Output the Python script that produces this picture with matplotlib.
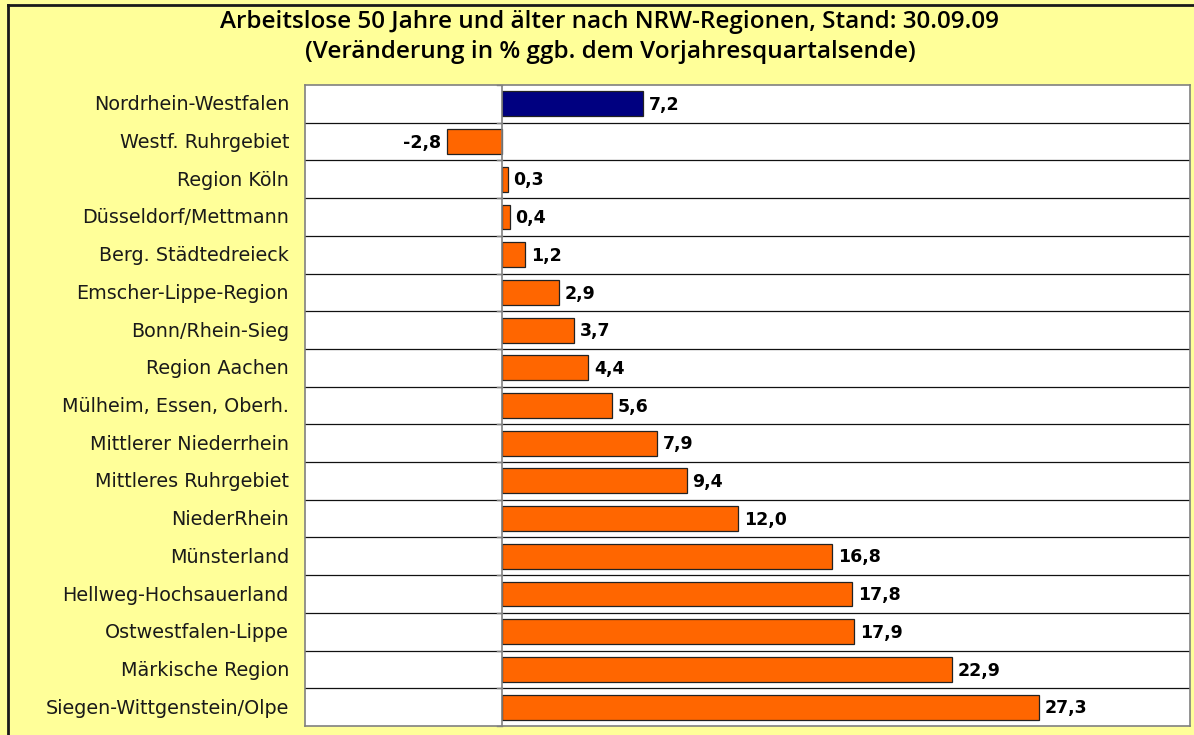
import matplotlib.pyplot as plt
from matplotlib.lines import Line2D

regions = [
    "Nordrhein-Westfalen", "Westf. Ruhrgebiet", "Region Köln", "Düsseldorf/Mettmann",
    "Berg. Städtedreieck", "Emscher-Lippe-Region", "Bonn/Rhein-Sieg", "Region Aachen",
    "Mülheim, Essen, Oberh.", "Mittlerer Niederrhein", "Mittleres Ruhrgebiet",
    "NiederRhein", "Münsterland", "Hellweg-Hochsauerland", "Ostwestfalen-Lippe",
    "Märkische Region", "Siegen-Wittgenstein/Olpe",
]
changes = [7.2, -2.8, 0.3, 0.4, 1.2, 2.9, 3.7, 4.4, 5.6, 7.9, 9.4, 12.0, 16.8, 17.8, 17.9, 22.9, 27.3]

W, H = 1194, 735
plt.rcParams["font.family"] = ["DejaVu Sans"]
fig = plt.figure(figsize=(W / 100, H / 100), dpi=100)
fig.patch.set_facecolor("#FFFF99")

# chart border: left and top edges
fig.add_artist(Line2D([7.5 / W, 7.5 / W], [0, 1 - 5 / H], transform=fig.transFigure,
                      color="#1a1a1a", linewidth=2))
fig.add_artist(Line2D([7.5 / W, 1], [1 - 5 / H, 1 - 5 / H], transform=fig.transFigure,
                      color="#1a1a1a", linewidth=2))

left, right, top, bottom = 305, 1190, 85, 726
ax = fig.add_axes([left / W, 1 - bottom / H, (right - left) / W, (bottom - top) / H])
ax.set_facecolor("white")

n = len(regions)
ypos = list(range(n))
colors = ["#000080"] + ["#FF6600"] * (n - 1)
ax.barh(ypos, changes, height=0.66, color=colors, edgecolor="#222222", linewidth=0.9, zorder=3)

ax.set_xlim(-10, 35)
ax.set_ylim(n - 0.5, -0.5)

# row separators
for b in range(1, n):
    ax.axhline(b - 0.5, color="#111111", linewidth=0.9, zorder=1)

# zero axis with small ticks at row boundaries
ax.axvline(0, color="#808080", linewidth=1.2, zorder=4)
for b in range(0, n + 1):
    ax.plot([-0.25, 0], [b - 0.5, b - 0.5], color="#808080", linewidth=1.0, zorder=4,
            clip_on=False)

for s in ax.spines.values():
    s.set_color("#808080")
    s.set_linewidth(1.2)

ax.set_xticks([])
ax.set_yticks([])
# region names, right-aligned left of the plot area
for y, name in zip(ypos, regions):
    ax.annotate(name, xy=(0, y), xycoords=("axes fraction", "data"), xytext=(-16, -1),
                textcoords="offset pixels", ha="right", va="center",
                fontsize=13.8, color="#1a1a1a")

for y, v in zip(ypos, changes):
    label = f"{v:.1f}".replace(".", ",")
    if v >= 0:
        ax.text(v + 0.3, y + 0.03, label, ha="left", va="center", fontsize=12.5,
                fontweight="bold", color="black")
    else:
        ax.text(v - 0.3, y + 0.03, label, ha="right", va="center", fontsize=12.5,
                fontweight="bold", color="black")

title_font = dict(family=["Open Sans", "DejaVu Sans"], fontsize=17.5, fontweight="semibold",
                  color="black", ha="center", va="center")
fig.text(610 / W, 1 - 22 / H, "Arbeitslose 50 Jahre und älter nach NRW-Regionen, Stand: 30.09.09",
         **title_font)
fig.text(610 / W, 1 - 52 / H, "(Veränderung in % ggb. dem Vorjahresquartalsende)", **title_font)

fig.savefig("out.png", dpi=100, facecolor=fig.get_facecolor())
